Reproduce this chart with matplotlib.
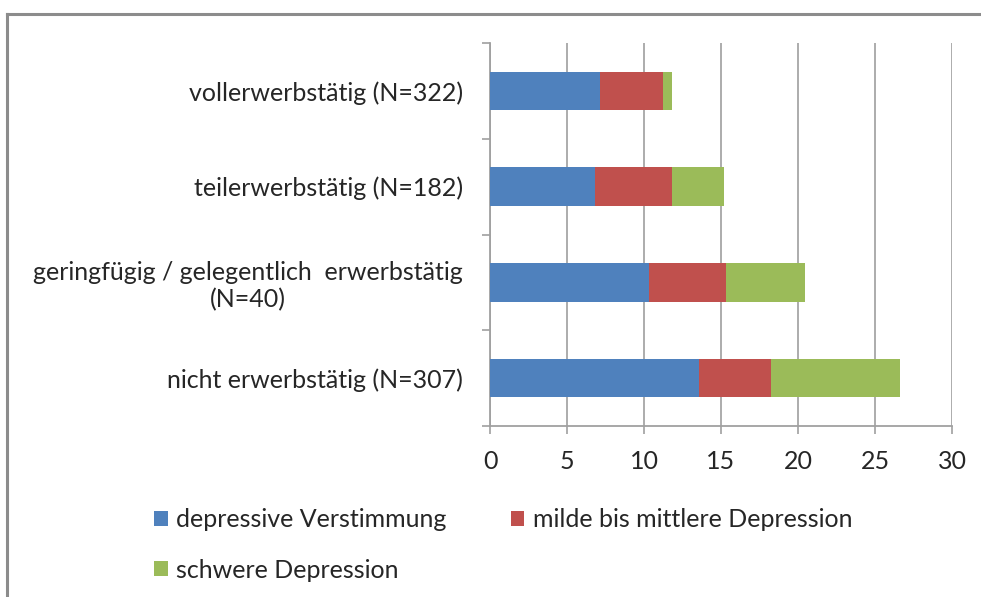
import numpy as np
import matplotlib
matplotlib.use("Agg")
import matplotlib.pyplot as plt
from matplotlib.lines import Line2D
from matplotlib.patches import Patch

plt.rcParams['font.family'] = ['Lato', 'DejaVu Sans']

categories = [
    "vollerwerbstätig (N=322)",
    "teilerwerbstätig (N=182)",
    "geringfügig / gelegentlich  erwerbstätig\n(N=40)",
    "nicht erwerbstätig (N=307)",
]
depressive_verstimmung = [7.15, 6.8, 10.35, 13.55]
milde_mittlere = [4.1, 5.05, 4.95, 4.7]
schwere = [0.6, 3.35, 5.15, 8.35]
series_names = ["depressive Verstimmung", "milde bis mittlere Depression", "schwere Depression"]
colors = ["#4F81BD", "#C0504D", "#9BBB59"]
x_ticks = [0, 5, 10, 15, 20, 25, 30]

W, H = 981, 597
FS = 18
fig = plt.figure(figsize=(W / 100, H / 100), dpi=100)
ax = fig.add_axes([490 / W, 1 - 426 / H, (952 - 490) / W, (426 - 43) / H])

y = np.arange(len(categories))
left = np.zeros(len(categories))
for vals, col, name in zip([depressive_verstimmung, milde_mittlere, schwere], colors, series_names):
    ax.barh(y, vals, left=left, height=0.4, color=col, label=name, zorder=3)
    left = left + np.array(vals)

ax.set_xlim(0, 30)
ax.set_ylim(len(categories) - 0.5, -0.5)
ax.set_xticks(x_ticks)
ax.set_xticklabels([str(t) for t in x_ticks], fontsize=FS, color="#262626")
ax.tick_params(axis="x", direction="out", length=6, width=1.2, color="#A0A0A0", pad=11)

# category labels in the middle, boundary ticks between the bars
ax.set_yticks(y)
ax.set_yticklabels(categories, fontsize=FS, color="#262626", multialignment="center")
ax.tick_params(axis="y", which="major", length=0, pad=19.5)
ax.set_yticks(np.arange(-0.5, len(categories), 1.0), minor=True)
ax.tick_params(axis="y", which="minor", direction="out", length=6, width=1.2, color="#A0A0A0")

ax.grid(axis="x", color="#A6A6A6", linewidth=1.3, zorder=0)
for s in ["top", "right"]:
    ax.spines[s].set_visible(False)
for s in ["left", "bottom"]:
    ax.spines[s].set_color("#A0A0A0")
    ax.spines[s].set_linewidth(1.3)

# legend fills column-wise: order so rows read blue, red / green
order = [0, 2, 1]
handles = [Patch(facecolor=colors[i]) for i in order]
labels = [series_names[i] for i in order]
fig.legend(handles, labels, loc="upper left", bbox_to_anchor=(144 / W, 1 - 498 / H),
           ncol=2, frameon=False, fontsize=FS, handlelength=0.55, handleheight=0.55,
           handletextpad=0.35, columnspacing=2.55, labelspacing=1.1, borderaxespad=0,
           labelcolor="#262626")

# outer frame
fig.add_artist(Line2D([7 / W, 7 / W], [0, 1 - 14 / H], color="#8C8C8C", linewidth=2.2))
fig.add_artist(Line2D([7 / W, 1], [1 - 14 / H, 1 - 14 / H], color="#8C8C8C", linewidth=2.2))

fig.savefig("out.png", dpi=100, facecolor="white")
